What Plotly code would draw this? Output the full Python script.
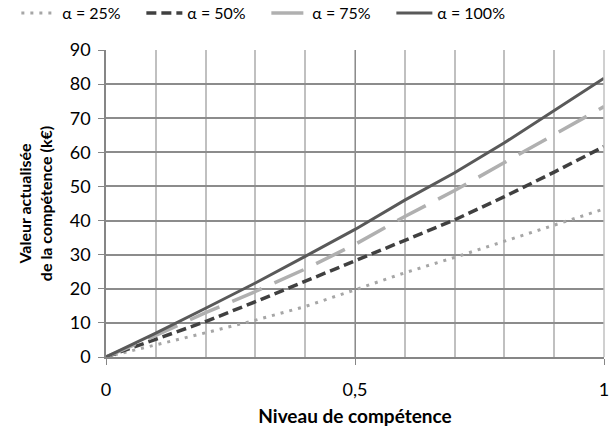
import plotly.graph_objects as go

x_vals = [0, 0.1, 0.2, 0.3, 0.4, 0.5, 0.6, 0.7, 0.8, 0.9, 1.0]
alpha_25 = [0, 3.5, 7.1, 10.8, 14.8, 19.7, 24.7, 29.2, 34.0, 38.8, 43.4]
alpha_50 = [0, 5.1, 10.4, 16.2, 22.2, 28.0, 34.0, 40.2, 47.0, 54.2, 61.7]
alpha_75 = [0, 6.3, 13.0, 19.2, 25.8, 33.0, 41.2, 48.8, 57.0, 65.3, 73.4]
alpha_100 = [0, 7.0, 14.3, 21.7, 29.5, 37.4, 46.0, 54.0, 62.8, 72.2, 81.7]

series_names = ["α = 25%", "α = 50%", "α = 75%", "α = 100%"]
x_ticks = [0, 0.5, 1]
x_tick_labels = ["0", "0,5", "1"]
y_ticks = [0, 10, 20, 30, 40, 50, 60, 70, 80, 90]

styles = [
    dict(color="#a6a6a6", dash="3px,6px", width=3),
    dict(color="#404040", dash="10px,5px", width=3.5),
    dict(color="#b0b0b0", dash="32px,14px", width=3.5),
    dict(color="#595959", dash="solid", width=3),
]

fig = go.Figure()
for name, ys, st in zip(series_names, [alpha_25, alpha_50, alpha_75, alpha_100], styles):
    fig.add_trace(go.Scatter(x=x_vals, y=ys, mode="lines", name=name,
                             line=dict(color=st["color"], dash=st["dash"], width=st["width"])))

font_family = "Lato, 'Open Sans', sans-serif"

fig.update_layout(
    width=612, height=427,
    margin=dict(l=106, r=8, t=50, b=70, autoexpand=False),
    paper_bgcolor="white", plot_bgcolor="white",
    font=dict(family=font_family, size=18, color="#000000"),
    showlegend=True,
    legend=dict(orientation="h", x=-0.18, xanchor="left", xref="paper",
                y=1.12, yanchor="middle", yref="paper",
                font=dict(size=16), itemwidth=36,
                entrywidth=74, entrywidthmode="pixels",
                bgcolor="rgba(0,0,0,0)"),
    xaxis=dict(
        range=[0, 1], tickvals=x_ticks, ticktext=x_tick_labels,
        showgrid=True, gridcolor="#8c8c8c", gridwidth=1,
        minor=dict(dtick=0.1, showgrid=True, gridcolor="#c0c0c0", gridwidth=1.5, ticks=""),
        showline=True, linecolor="#868686", linewidth=1.5, mirror=False,
        ticks="outside", ticklen=6, tickcolor="#868686",
        ticklabelstandoff=10, ticklabeloverflow="allow", zeroline=False,
        automargin=False,
        title=dict(text="<b>Niveau de compétence</b>", font=dict(size=19), standoff=12),
    ),
    yaxis=dict(
        range=[0, 90], tickvals=y_ticks,
        showgrid=True, gridcolor="#8c8c8c", gridwidth=1.5,
        showline=True, linecolor="#868686", linewidth=1.5,
        ticks="outside", ticklen=6, tickcolor="#868686",
        ticklabelstandoff=4, zeroline=False,
        automargin=False,
        title=dict(text="<b>Valeur actualisée<br>de la compétence (k€)</b>", font=dict(size=16), standoff=13),
    ),
)

# right border of plot area
fig.add_shape(type="line", xref="paper", yref="paper", x0=1, x1=1, y0=0, y1=1,
              line=dict(color="#c0c0c0", width=1.5))

fig.write_html("out.html", config={"displayModeBar": False},
               post_script="document.body.style.margin='0';")
